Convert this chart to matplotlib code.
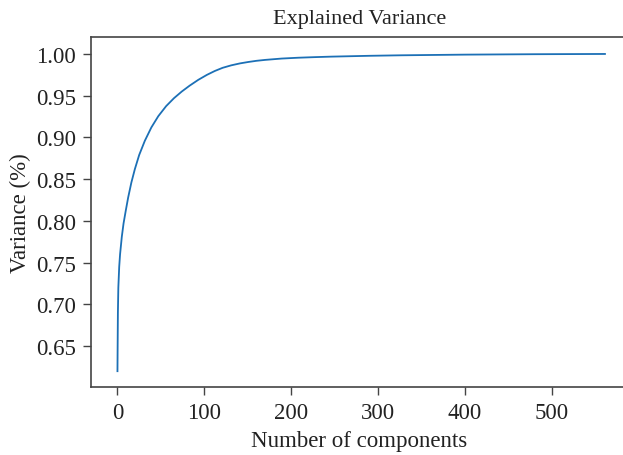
import matplotlib
matplotlib.use("Agg")
import matplotlib.pyplot as plt

# Number of components vs. cumulative explained variance
components = [0, 0.2, 0.5, 1, 2, 3, 5, 7, 9.5, 12.3, 16, 20, 25, 31.5, 39, 47, 56, 65, 74, 83,
              93, 103, 112, 121, 131, 141, 150.6, 160, 170, 189, 208, 227, 246, 290, 326,
              400, 480, 561]
variance = [0.620, 0.650, 0.690, 0.720, 0.745, 0.760, 0.781, 0.797, 0.812, 0.828, 0.846,
            0.862, 0.879, 0.896, 0.912, 0.9255, 0.9375, 0.947, 0.955, 0.962,
            0.969, 0.975, 0.9796, 0.9834, 0.9864, 0.9887, 0.9904, 0.9918, 0.9929, 0.9945,
            0.9955, 0.9962, 0.9968, 0.9978, 0.9984, 0.9992, 0.9997, 1.000]

title = "Explained Variance"
xlabel = "Number of components"
ylabel = "Variance (%)"
yticks = [0.65, 0.70, 0.75, 0.80, 0.85, 0.90, 0.95, 1.00]
xticks = [0, 100, 200, 300, 400, 500]

plt.rcParams['font.family'] = ['Liberation Serif', 'DejaVu Serif']

fig = plt.figure(figsize=(6.23, 4.56), dpi=100)
ax = fig.add_axes([0.146, 0.149, 0.862, 0.768])
ax.plot(components, variance, color='#1c70b6', linewidth=1.3)

ax.set_xticks(xticks)
ax.set_yticks(yticks)
ax.set_yticklabels([f"{v:.2f}" for v in yticks])
ax.set_xlim(-30.5, 587.5)
ax.set_ylim(0.601, 1.0205)

ax.set_title(title, fontsize=16, color='#222222', pad=10)
ax.set_xlabel(xlabel, fontsize=16.5, color='#222222', labelpad=5)
ax.set_ylabel(ylabel, fontsize=16.5, color='#222222', labelpad=3)

for side in ['left', 'bottom', 'top']:
    ax.spines[side].set_color('#444444')
    ax.spines[side].set_linewidth(1.2)
ax.spines['right'].set_visible(False)
ax.tick_params(axis='both', labelsize=16.5, colors='#222222', length=6, width=1.0,
               direction='out', pad=5)
ax.tick_params(axis='both', color='#444444')

fig.savefig("out.png", dpi=100)
